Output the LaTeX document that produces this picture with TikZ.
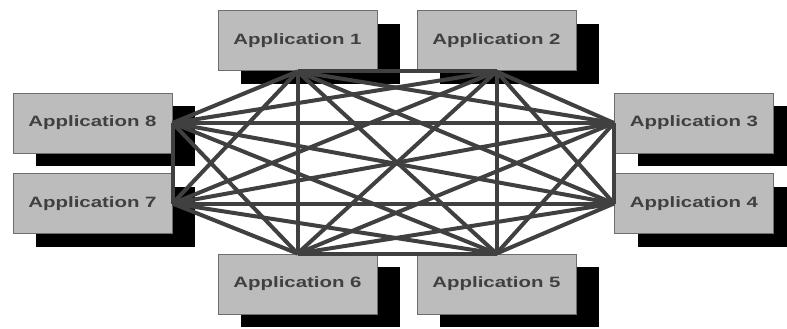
\documentclass[tikz,border=0pt]{standalone}
\usepackage{fontspec}
\setmainfont{Liberation Sans}
\usetikzlibrary{shadows}
\definecolor{boxfill}{HTML}{BCBCBC}
\definecolor{boxline}{HTML}{6E6E6E}
\definecolor{linkc}{HTML}{404040}
\definecolor{txtc}{HTML}{404040}
\newcommand{\apptxt}[1]{\scalebox{1.36}[1]{\fontsize{15pt}{15pt}\selectfont\bfseries #1}}
\tikzset{
  appbox/.style={draw=boxline, line width=1pt, fill=boxfill, minimum width=159pt, minimum height=60pt,
    inner sep=0pt, text=txtc,
    drop shadow={shadow xshift=23pt, shadow yshift=-13pt, fill=black, opacity=1}},
  link/.style={draw=linkc, line width=4pt}
}
\begin{document}
\begin{tikzpicture}[x=1pt,y=-1pt]
\useasboundingbox (0,0) rectangle (787,329);
\node[appbox] (a1) at (297.5,41) {\apptxt{Application 1}};
\node[appbox] (a2) at (496.5,41) {\apptxt{Application 2}};
\node[appbox] (a3) at (694,123) {\apptxt{Application 3}};
\node[appbox] (a4) at (694,203.5) {\apptxt{Application 4}};
\node[appbox] (a5) at (496.5,284) {\apptxt{Application 5}};
\node[appbox] (a6) at (297.5,284) {\apptxt{Application 6}};
\node[appbox] (a7) at (92.5,203.5) {\apptxt{Application 7}};
\node[appbox] (a8) at (92.5,123) {\apptxt{Application 8}};
\coordinate (p1) at (a1.south);
\coordinate (p2) at (a2.south);
\coordinate (p3) at (a3.west);
\coordinate (p4) at (a4.west);
\coordinate (p5) at (a5.north);
\coordinate (p6) at (a6.north);
\coordinate (p7) at (a7.east);
\coordinate (p8) at (a8.east);
\foreach \i in {1,...,8}{
  \foreach \j in {1,...,8}{
    \ifnum\i<\j
      \draw[link] (p\i) -- (p\j);
    \fi
  }
}
\end{tikzpicture}
\end{document}
